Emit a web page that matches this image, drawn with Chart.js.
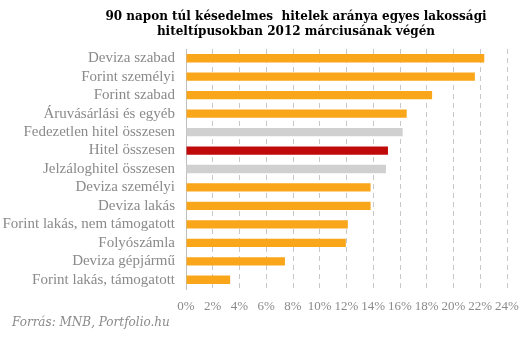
<!DOCTYPE html>
<html>
<head>
<meta charset="utf-8">
<script src="https://cdn.jsdelivr.net/npm/chart.js@4"></script>
<style>
  html, body { margin: 0; padding: 0; background: #fff; }
  #wrap { position: relative; width: 530px; height: 338px; }
  #title { position: absolute; left: 96px; width: 400px; top: 9px; text-align: center; white-space: pre; font: bold 12px/15px "DejaVu Serif", serif; color: #000; }
  #source { position: absolute; left: 12px; top: 315px; font: italic 12px "DejaVu Serif", serif; color: #8a8a8a; }
</style>
</head>
<body>
<div id="wrap">
  <canvas id="c" width="530" height="338"></canvas>
  <div id="title"></div>
  <div id="source">Forrás: MNB, Portfolio.hu</div>
</div>
<script>
const categories = [
  "Deviza szabad",
  "Forint személyi",
  "Forint szabad",
  "Áruvásárlási és egyéb",
  "Fedezetlen hitel összesen",
  "Hitel összesen",
  "Jelzáloghitel összesen",
  "Deviza személyi",
  "Deviza lakás",
  "Forint lakás, nem támogatott",
  "Folyószámla",
  "Deviza gépjármű",
  "Forint lakás, támogatott"
];
const values = [22.3, 21.6, 18.4, 16.5, 16.2, 15.1, 14.95, 13.8, 13.8, 12.1, 11.95, 7.4, 3.3];
const barColors = ["#F9A61A","#F9A61A","#F9A61A","#F9A61A","#D0D0D0","#C00A0A","#D0D0D0","#F9A61A","#F9A61A","#F9A61A","#F9A61A","#F9A61A","#F9A61A"];
const titleLines = ["90 napon túl késedelmes  hitelek aránya egyes lakossági", "hiteltípusokban 2012 márciusának végén"];
const xMin = 0, xMax = 24, xStep = 2;

document.getElementById('title').textContent = titleLines.join('\n');

new Chart(document.getElementById('c'), {
  type: 'bar',
  data: {
    labels: categories,
    datasets: [{
      data: values,
      backgroundColor: barColors,
      borderWidth: 0,
      barPercentage: 0.45,
      categoryPercentage: 1.0
    }]
  },
  options: {
    indexAxis: 'y',
    responsive: false,
    animation: false,
    devicePixelRatio: 1,
    layout: { padding: { left: 0, right: 23, top: 49, bottom: 21 } },
    plugins: {
      legend: { display: false },
      tooltip: { enabled: false },
      title: { display: false }
    },
    scales: {
      x: {
        min: xMin, max: xMax,
        ticks: {
          stepSize: xStep,
          color: '#8a8a8a',
          font: { family: '"Liberation Serif", serif', size: 13 },
          padding: 10,
          maxRotation: 0,
          minRotation: 0,
          autoSkip: false,
          callback: v => v + '%'
        },
        grid: { color: '#C8C8C8', lineWidth: 1, drawTicks: false },
        border: { display: false, dash: [5, 4] },
        afterFit: s => { s.height = 28; }
      },
      y: {
        ticks: {
          color: '#8a8a8a',
          font: { family: '"Liberation Serif", serif', size: 15 },
          padding: 11,
          autoSkip: false
        },
        grid: { display: false, drawTicks: false },
        border: { display: true, color: '#BFBFBF', width: 1 },
        afterFit: s => { s.width = 186; }
      }
    }
  }
});
</script>
</body>
</html>
